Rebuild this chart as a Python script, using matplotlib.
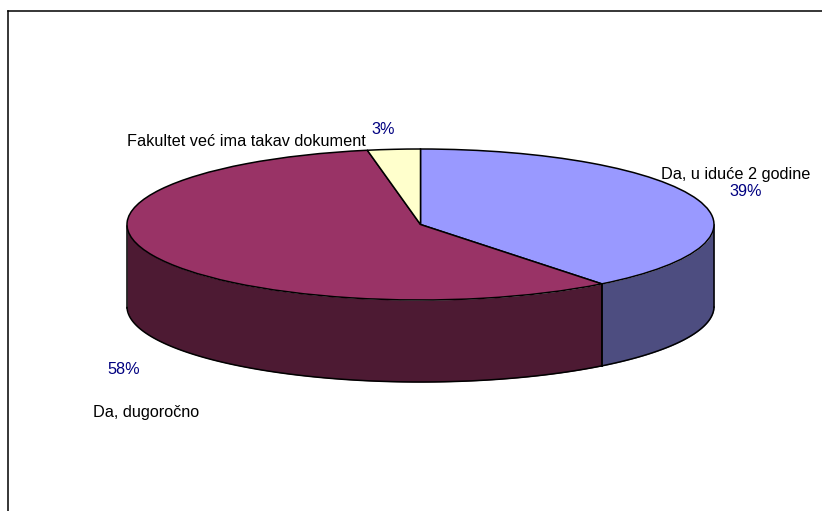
import numpy as np
import matplotlib
matplotlib.use('Agg')
import matplotlib.pyplot as plt

kategorije = ['Da, u iduće 2 godine', 'Da, dugoročno', 'Fakultet već ima takav dokument']
postoci = [39.4, 57.7, 2.9]
oznake = ['39%', '58%', '3%']
boje = ['#9999FF', '#993366', '#FFFFCC']
boje_bok = ['#4D4D80', '#4D1A33', '#808066']

W, H = 822, 511
CX, CY = 420.5, 224.5   # sredina elipse u pikselima
RX, RY = 293.5, 75.5
DUBINA = 82 / RY

plt.rcParams['font.family'] = ['Liberation Sans', 'DejaVu Sans']

fig = plt.figure(figsize=(W / 100, H / 100), dpi=100)
ax = fig.add_axes([0, 0, 1, 1])

ax.pie(postoci, colors=boje, startangle=90, counterclock=False, radius=1, center=(0, 0),
       wedgeprops={'edgecolor': 'black', 'linewidth': 1.1, 'zorder': 3})

# pie stavlja aspect equal, ovdje ga razvlacimo u elipsu
ax.set_aspect('auto')
ax.set_xlim(-CX / RX, (W - CX) / RX)
ax.set_ylim(-(H - CY) / RY, CY / RY)
ax.axis('off')


def px(x, y):
    return (x - CX) / RX, (CY - y) / RY


# bocna stijenka, samo prednji dio (donja polovica elipse)
granice = np.cumsum([0] + postoci) / sum(postoci) * 360
for i in range(len(postoci)):
    kut1 = 90 - granice[i]
    kut2 = 90 - granice[i + 1]
    kutovi = np.radians(np.linspace(kut1, kut2, 200))
    kutovi = kutovi[np.sin(kutovi) <= 0]
    if len(kutovi) == 0:
        # komad je cijeli straga
        continue
    x = np.cos(kutovi)
    y = np.sin(kutovi)
    ax.fill_between(x, y - DUBINA, y, color=boje_bok[i], linewidth=0, zorder=1)
    ax.plot(x, y - DUBINA, color='black', lw=1.1, zorder=2)
    ax.plot([x[0], x[0]], [y[0], y[0] - DUBINA], color='black', lw=1.1, zorder=2)
    ax.plot([x[-1], x[-1]], [y[-1], y[-1] - DUBINA], color='black', lw=1.1, zorder=2)

# tekstovi
FS = 11.7
TAMNO = '#000080'
ax.text(*px(127, 141.5), kategorije[2], fontsize=FS, color='black', ha='left', va='center')
ax.text(*px(371, 130), oznake[2], fontsize=FS, color=TAMNO, ha='left', va='center')
ax.text(*px(661, 175), kategorije[0], fontsize=FS, color='black', ha='left', va='center')
ax.text(*px(729, 192), oznake[0], fontsize=FS, color=TAMNO, ha='left', va='center')
ax.text(*px(107, 370), oznake[1], fontsize=FS, color=TAMNO, ha='left', va='center')
ax.text(*px(93, 413), kategorije[1], fontsize=FS, color='black', ha='left', va='center')

# okvir: samo gore i lijevo
ax.plot(*zip(px(8, 11.5), px(W, 11.5)), color='black', lw=1.1, clip_on=False)
ax.plot(*zip(px(8, 11.5), px(8, H)), color='black', lw=1.1, clip_on=False)

fig.savefig('out.png', dpi=100, facecolor='white')
